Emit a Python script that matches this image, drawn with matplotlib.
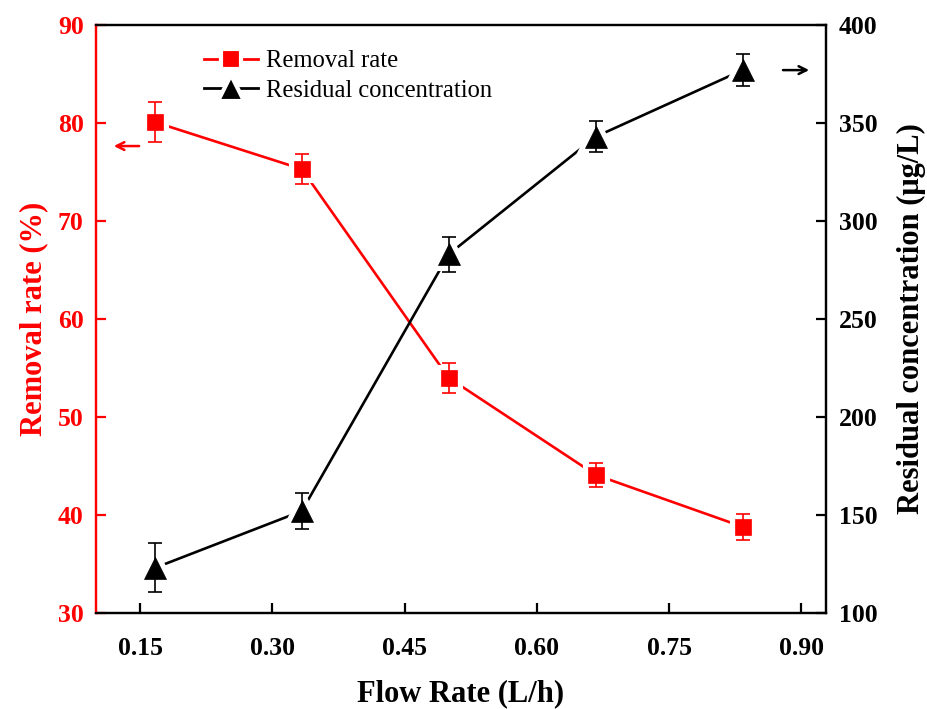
import matplotlib
matplotlib.use("Agg")
import matplotlib.pyplot as plt
from matplotlib.lines import Line2D

plt.rcParams['font.family'] = ['Liberation Serif', 'DejaVu Serif']

flow = [1/6, 2/6, 3/6, 4/6, 5/6]
removal = [80.1, 75.3, 54.0, 44.1, 38.8]
removal_err = [2.0, 1.5, 1.5, 1.2, 1.3]
residual = [123, 152, 283, 343, 377]
residual_err = [12.5, 9, 9, 8, 8]
xticks = [0.15, 0.30, 0.45, 0.60, 0.75, 0.90]
xtick_labels = ['0.15', '0.30', '0.45', '0.60', '0.75', '0.90']
lticks = [30, 40, 50, 60, 70, 80, 90]
rticks = [100, 150, 200, 250, 300, 350, 400]

RED = '#ff0000'
BLK = '#000000'

fig = plt.figure(figsize=(9.27, 7.09), dpi=100)
ax = fig.add_axes([0.1036, 0.1354, 0.7875, 0.8293])
ax2 = ax.twinx()

def draw(a, x, y, e, color, marker, ms):
    a.plot(x, y, '-', color=color, lw=1.9, zorder=2)
    a.plot(x, y, linestyle='none', marker=marker, ms=ms, mfc=color,
           mec='white', mew=8, zorder=3)
    a.errorbar(x, y, yerr=e, fmt='none', ecolor=color, elinewidth=1.2,
               capsize=4.7, capthick=1.2, zorder=4)
    a.plot(x, y, linestyle='none', marker=marker, ms=ms, mfc=color,
           mec=color, mew=0.5, zorder=5)

draw(ax, flow, removal, removal_err, RED, 's', 11.5)
draw(ax2, flow, residual, residual_err, BLK, '^', 16)

ax.set_xlim(0.10, 0.928)
ax.set_ylim(30, 90)
ax2.set_ylim(100, 400)
ax.set_xticks(xticks)
ax.set_xticklabels(xtick_labels)
ax.set_yticks(lticks)
ax2.set_yticks(rticks)

for a in (ax, ax2):
    for s in a.spines.values():
        s.set_linewidth(1.6)
        s.set_color(BLK)
ax.spines['left'].set_color(RED)
ax2.spines['left'].set_color(RED)

ax.tick_params(axis='x', direction='in', length=7, width=1.6, colors=BLK, pad=17)
ax.tick_params(axis='y', direction='in', length=7, width=1.6, colors=RED, pad=9)
ax2.tick_params(axis='y', direction='in', length=7, width=1.6, colors=BLK, pad=9)
for lab in ax.get_xticklabels() + ax.get_yticklabels() + ax2.get_yticklabels():
    lab.set_fontsize(18.5)
    lab.set_fontweight('bold')

ax.set_xlabel('Flow Rate (L/h)', fontsize=22, fontweight='bold', labelpad=14)
ax.set_ylabel('Removal rate (%)', fontsize=22, fontweight='bold', color=RED, labelpad=7)
ax2.set_ylabel('Residual concentration (μg/L)', fontsize=22, fontweight='bold',
               color=BLK, labelpad=14)

# arrows indicating axes
ax.annotate('', xy=(0.117, 77.65), xytext=(0.152, 77.65),
            arrowprops=dict(arrowstyle='->', color=RED, lw=1.8, mutation_scale=14))
ax2.annotate('', xy=(0.912, 377), xytext=(0.876, 377),
             arrowprops=dict(arrowstyle='->', color=BLK, lw=1.8, mutation_scale=14))

handles = [
    Line2D([], [], color=RED, lw=2, marker='s', ms=14, mfc=RED, mec='white', mew=3),
    Line2D([], [], color=BLK, lw=2, marker='^', ms=19, mfc=BLK, mec='white', mew=3),
]
leg = ax.legend(handles, ['Removal rate', 'Residual concentration'],
                loc='upper left', bbox_to_anchor=(0.117, 0.995), frameon=False,
                fontsize=17.7, handlelength=2.2, handletextpad=0.35, labelspacing=0.3)

fig.savefig('out.png', dpi=100)
